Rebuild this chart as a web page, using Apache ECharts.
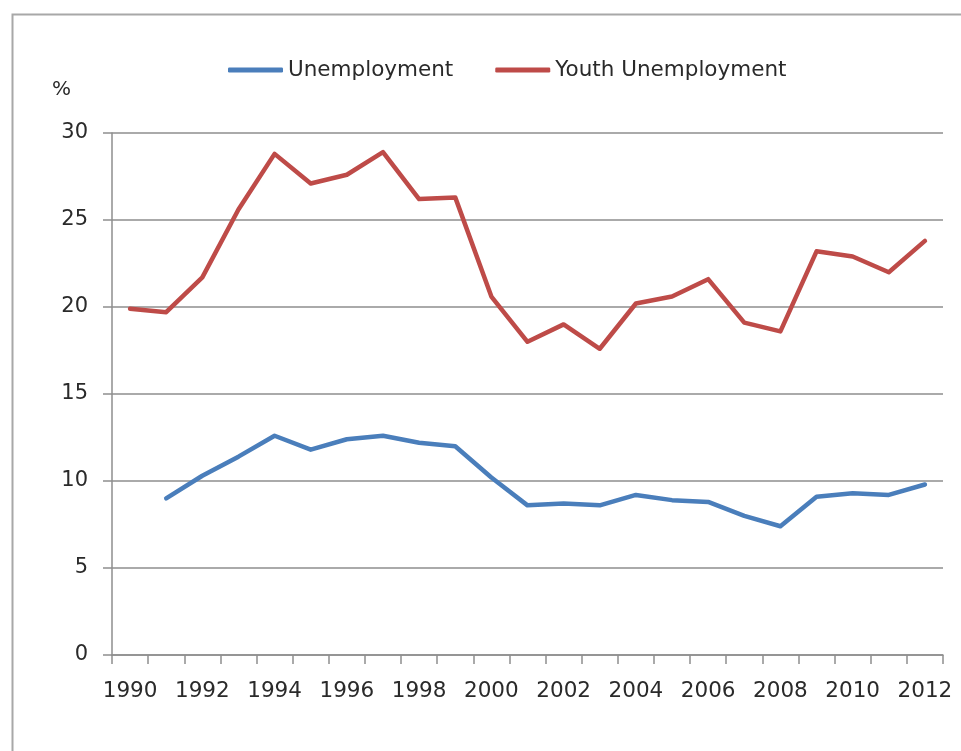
<!DOCTYPE html>
<html>
<head>
<meta charset="utf-8">
<script src="https://cdn.jsdelivr.net/npm/echarts@6/dist/echarts.min.js"></script>
<style>
html,body{margin:0;padding:0;background:#fff;}
#chart{width:961px;height:751px;}
</style>
</head>
<body>
<div id="chart"></div>
<script>
var years = ['1990','1991','1992','1993','1994','1995','1996','1997','1998','1999','2000','2001','2002','2003','2004','2005','2006','2007','2008','2009','2010','2011','2012'];
var unemployment = [null, 9.0, 10.3, 11.4, 12.6, 11.8, 12.4, 12.6, 12.2, 12.0, 10.2, 8.6, 8.7, 8.6, 9.2, 8.9, 8.8, 8.0, 7.4, 9.1, 9.3, 9.2, 9.8];
var youthUnemployment = [19.9, 19.7, 21.7, 25.6, 28.8, 27.1, 27.6, 28.9, 26.2, 26.3, 20.6, 18.0, 19.0, 17.6, 20.2, 20.6, 21.6, 19.1, 18.6, 23.2, 22.9, 22.0, 23.8];
var seriesNames = ['Unemployment', 'Youth Unemployment'];
var yTicks = {min: 0, max: 30, interval: 5};
var yUnit = '%';

var FONT = 'DejaVu Sans';
var TXT = '#2a2a2a';
var GRID = '#8e8e8e';
var chart = echarts.init(document.getElementById('chart'), null, {renderer: 'canvas'});
chart.setOption({
  animation: false,
  backgroundColor: '#ffffff',
  textStyle: {fontFamily: FONT},
  graphic: [
    {type: 'rect', left: 10, top: 12, shape: {width: 1000, height: 800},
     style: {fill: 'none', stroke: '#a8a8a8', lineWidth: 2}, silent: true, z: -10},
    {type: 'text', left: 52, top: 80,
     style: {text: yUnit, fontFamily: FONT, fontSize: 20, fill: TXT}}
  ],
  legend: {
    left: 223, top: 54,
    itemWidth: 55, itemHeight: 5, itemGap: 42,
    icon: 'roundRect',
    textStyle: {fontFamily: FONT, fontSize: 21.5, color: TXT, padding: [0,0,0,0]},
    data: seriesNames
  },
  grid: {left: 112, right: 18, top: 133, bottom: 96, containLabel: false},
  xAxis: {
    type: 'category',
    data: years,
    boundaryGap: true,
    axisLine: {show: true, lineStyle: {color: GRID, width: 1.5}},
    axisTick: {show: true, interval: 0, length: 9, lineStyle: {color: GRID, width: 1.5}},
    axisLabel: {interval: 1, fontFamily: FONT, fontSize: 21.5, color: TXT, margin: 25}
  },
  yAxis: {
    type: 'value',
    min: yTicks.min, max: yTicks.max, interval: yTicks.interval,
    axisLine: {show: true, lineStyle: {color: GRID, width: 1.5}},
    axisTick: {show: true, length: 9, lineStyle: {color: GRID, width: 1.5}},
    axisLabel: {fontFamily: FONT, fontSize: 21, color: TXT, margin: 24},
    splitLine: {show: true, lineStyle: {color: GRID, width: 1.5}}
  },
  series: [
    {name: seriesNames[0], type: 'line', data: unemployment, symbol: 'none',
     connectNulls: false, color: '#4a7ebb',
     lineStyle: {width: 4.5, color: '#4a7ebb', cap: 'round', join: 'round'}},
    {name: seriesNames[1], type: 'line', data: youthUnemployment, symbol: 'none',
     color: '#be4b48',
     lineStyle: {width: 4.5, color: '#be4b48', cap: 'round', join: 'round'}}
  ]
});
</script>
</body>
</html>
